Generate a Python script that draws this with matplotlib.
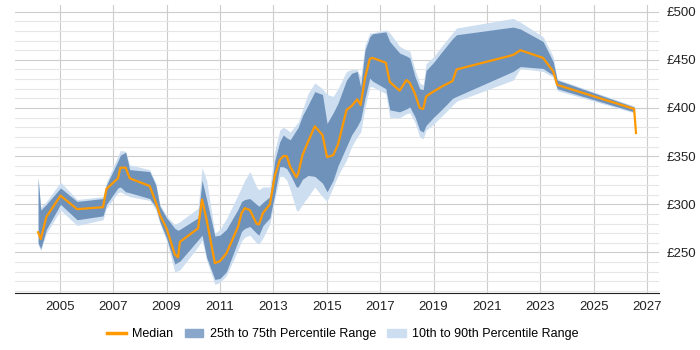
import numpy as np
import matplotlib.pyplot as plt
from matplotlib.patches import Patch
from matplotlib.lines import Line2D

plt.rcParams['font.family'] = ['Liberation Sans', 'DejaVu Sans']

# years and percentile values
years = [2004.19, 2004.29, 2004.50, 2005.03, 2005.65, 2006.62, 2006.75, 2007.18,
         2007.27, 2007.47, 2007.62, 2008.37, 2008.60, 2008.75, 2009.00, 2009.31,
         2009.43, 2009.50, 2010.18, 2010.33, 2010.50, 2010.81, 2011.00, 2011.24,
         2011.68, 2011.81, 2011.93, 2012.12, 2012.37, 2012.46, 2012.61, 2012.87,
         2013.05, 2013.24, 2013.37, 2013.50, 2013.63, 2013.86, 2013.93, 2014.09,
         2014.30, 2014.55, 2014.84, 2015.01, 2015.24, 2015.42, 2015.74, 2015.93,
         2016.14, 2016.27, 2016.43, 2016.61, 2016.71, 2017.21, 2017.36, 2017.73,
         2017.98, 2018.11, 2018.30, 2018.48, 2018.61, 2018.72, 2018.99, 2019.36,
         2019.71, 2019.86, 2021.98, 2022.25, 2023.10, 2023.48, 2023.63, 2026.51,
         2026.58]
median = [271, 264, 287, 309, 295, 297, 316, 327, 338, 338, 327, 319, 302, 289,
          275, 248, 245, 261, 275, 305, 284, 239, 241, 249, 277, 291, 296, 294,
          280, 279, 291, 300, 329, 346, 350, 350, 339, 328, 332, 351, 365, 381,
          372, 349, 351, 362, 398, 402, 409, 403, 431, 451, 452, 447, 427, 418,
          429, 426, 415, 400, 399, 412, 417, 423, 428, 440, 455, 460, 452, 438,
          424, 399, 374]
p25 = [260, 254, 274, 300, 284, 288, 300, 317, 318, 313, 312, 306, 297, 282,
       265, 238, 240, 241, 263, 268, 245, 222, 223, 230, 262, 272, 275, 277,
       270, 268, 278, 286, 310, 339, 339, 337, 331, 318, 318, 326, 330, 329,
       322, 313, 325, 340, 360, 372, 381, 388, 410, 431, 428, 420, 398, 396,
       399, 401, 391, 377, 375, 382, 390, 400, 410, 412, 438, 443, 441, 434,
       420, 396, np.nan]
p75 = [327, 294, 300, 317, 303, 306, 320, 345, 351, 354, 336, 334, 320, 298,
       286, 275, 273, 274, 286, 325, 305, 267, 268, 274, 295, 303, 305, 306,
       300, 298, 302, 308, 345, 365, 372, 369, 367, 377, 380, 392, 403, 417,
       414, 384, 395, 405, 429, 436, 438, 422, 460, 474, 477, 479, 469, 457,
       454, 452, 433, 420, 419, 439, 447, 460, 472, 476, 484, 482, 469, 448,
       429, 401, np.nan]
p10 = [258, 252, 270, 294, 278, 284, 296, 312, 313, 310, 308, 304, 294, 280,
       262, 230, 231, 232, 256, 263, 242, 217, 219, 226, 253, 262, 266, 268,
       260, 259, 265, 280, 305, 329, 329, 325, 315, 294, 293, 300, 308, 318,
       308, 303, 318, 330, 346, 360, 370, 375, 400, 422, 422, 415, 390, 390,
       394, 395, 385, 370, 368, 377, 383, 393, 403, 407, 429, 441, 438, 432,
       418, 395, np.nan]
p90 = [329, 297, 303, 323, 305, 308, 323, 350, 356, 355, 341, 336, 322, 300,
       288, 279, 281, 282, 296, 338, 325, 270, 274, 285, 310, 318, 325, 334,
       318, 315, 318, 318, 355, 377, 380, 378, 375, 383, 385, 398, 415, 426,
       420, 414, 412, 420, 438, 440, 440, 432, 465, 478, 478, 481, 478, 464,
       460, 459, 440, 426, 424, 446, 453, 466, 478, 483, 493, 489, 474, 453,
       430, 402, np.nan]

x_ticks = list(range(2005, 2028, 2))
y_ticks = [250, 300, 350, 400, 450, 500]

fig = plt.figure(figsize=(7, 3.5), dpi=100)
ax = fig.add_axes([0.022, 0.163, 0.919, 0.823])

ax.fill_between(years, p10, p90, color='#cddef0', linewidth=0)
ax.fill_between(years, p25, p75, color='#6f92bb', linewidth=0)
ax.plot(years, median, color='#ff9900', linewidth=1.6)

ax.set_xlim(2003.34, 2027.43)
ax.set_ylim(208, 507)

# grid
ax.set_yticks(np.arange(210, 507, 10), minor=True)
ax.set_yticks(y_ticks)
ax.set_yticklabels(['£%d' % v for v in y_ticks])
ax.set_xticks(x_ticks)
ax.grid(which='minor', axis='y', color='#e6e6e6', linewidth=0.8)
ax.grid(which='major', axis='y', color='#cccccc', linewidth=0.8)
ax.grid(which='major', axis='x', color='#cccccc', linewidth=0.8)
ax.set_axisbelow(True)

ax.yaxis.tick_right()
ax.tick_params(axis='both', which='both', length=0, labelsize=9.5, colors='#222222')
ax.tick_params(axis='x', pad=6)
ax.tick_params(axis='y', pad=6)
for s in ['top', 'left', 'right']:
    ax.spines[s].set_visible(False)
ax.spines['bottom'].set_color('#222222')

handles = [Line2D([0], [0], color='#ff9900', linewidth=2.5),
           Patch(color='#88a7cb'),
           Patch(color='#cddef0')]
labels = ['Median', '25th to 75th Percentile Range', '10th to 90th Percentile Range']
fig.legend(handles, labels, loc='center', bbox_to_anchor=(0.49, 0.045), ncol=3,
           frameon=False, fontsize=9, handlelength=1.5, columnspacing=0.9,
           handletextpad=0.5)

plt.savefig('out.png')
